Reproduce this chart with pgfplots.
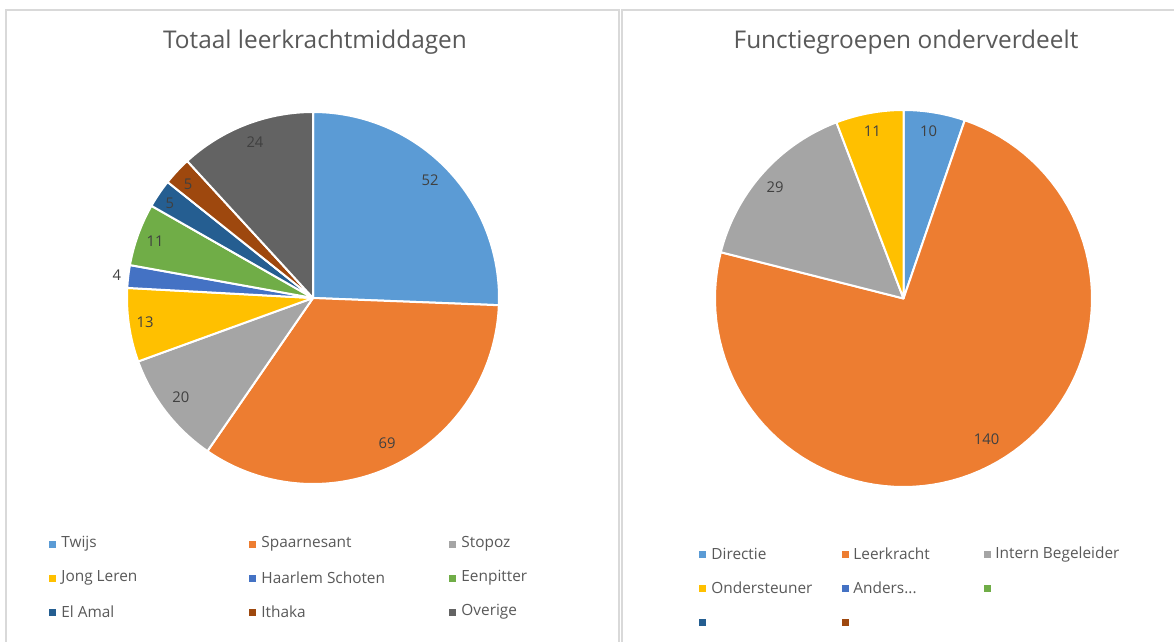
\documentclass[border=0pt]{standalone}
\usepackage{fontspec}
\setmainfont{Open Sans}
\usepackage{pgfplots}
\pgfplotsset{compat=1.18}
\definecolor{c1}{HTML}{5B9BD5}
\definecolor{c2}{HTML}{ED7D31}
\definecolor{c3}{HTML}{A5A5A5}
\definecolor{c4}{HTML}{FFC000}
\definecolor{c5}{HTML}{4472C4}
\definecolor{c6}{HTML}{70AD47}
\definecolor{c7}{HTML}{255E91}
\definecolor{c8}{HTML}{9E480E}
\definecolor{c9}{HTML}{636363}
\definecolor{txt}{HTML}{595959}
\definecolor{lbl}{HTML}{404040}
\definecolor{frame}{HTML}{D9D9D9}
% slice: colour, cumulative value before, value, total
\newcommand\slice[4]{%
  \addplot[fill=#1, draw=white, line width=1pt, line join=round,
    domain={90-(#2+#3)*360/#4}:{90-#2*360/#4}, samples=90]
    ({cos(x)},{sin(x)}) -- (axis cs:0,0) -- cycle;
}
\begin{document}
\begin{tikzpicture}
\path[use as bounding box, fill=white] (0,0) rectangle (587pt,-321pt);
% panel frames
\draw[frame, line width=0.7pt] (3pt,-330pt) -- (3pt,-5pt) -- (309.5pt,-5pt) -- (309.5pt,-330pt);
\draw[frame, line width=0.7pt] (311pt,-330pt) -- (311pt,-5pt) -- (600pt,-5pt);
% titles
\node[txt, font=\fontsize{12.2}{14}\selectfont] at (157.5pt,-21pt) {Totaal leerkrachtmiddagen};
\node[txt, font=\fontsize{12.2}{14}\selectfont] at (453pt,-21pt) {Functiegroepen onderverdeelt};

% left pie: total 203
\begin{axis}[at={(156.5pt,-149pt)}, anchor=center, x=93pt, y=93pt,
  xmin=-1.2, xmax=1.2, ymin=-1.2, ymax=1.2, hide axis, clip=false]
\slice{c1}{0}{52}{203}
\slice{c2}{52}{69}{203}
\slice{c3}{121}{20}{203}
\slice{c4}{141}{13}{203}
\slice{c5}{154}{4}{203}
\slice{c6}{158}{11}{203}
\slice{c7}{169}{5}{203}
\slice{c8}{174}{5}{203}
\slice{c9}{179}{24}{203}
\begin{scope}[every node/.style={lbl, font=\fontsize{7.4}{9}\selectfont}]
\node at (axis cs:0.629,0.634) {52};
\node at (axis cs:0.398,-0.780) {69};
\node at (axis cs:-0.710,-0.532) {20};
\node at (axis cs:-0.903,-0.129) {13};
\node at (axis cs:-1.054,0.124) {4};
\node at (axis cs:-0.849,0.306) {11};
\node at (axis cs:-0.769,0.511) {5};
\node at (axis cs:-0.672,0.613) {5};
\node at (axis cs:-0.312,0.839) {24};
\end{scope}
\end{axis}

% right pie: total 190
\begin{axis}[at={(451.75pt,-149.25pt)}, anchor=center, x=94.25pt, y=94.25pt,
  xmin=-1.2, xmax=1.2, ymin=-1.2, ymax=1.2, hide axis, clip=false]
\slice{c1}{0}{10}{190}
\slice{c2}{10}{140}{190}
\slice{c3}{150}{29}{190}
\slice{c4}{179}{11}{190}
\begin{scope}[every node/.style={lbl, font=\fontsize{7.4}{9}\selectfont}]
\node at (axis cs:0.133,0.888) {10};
\node at (axis cs:0.441,-0.745) {140};
\node at (axis cs:-0.681,0.590) {29};
\node at (axis cs:-0.165,0.888) {11};
\end{scope}
\end{axis}

% legends
\begin{scope}[every node/.style={txt, anchor=west, inner sep=0pt, font=\fontsize{7.7}{9}\selectfont}]
\def\sq#1#2#3{\fill[#3] (#1-1.75pt,#2-1.75pt) rectangle (#1+1.75pt,#2+1.75pt);}
% left
\sq{26pt}{-272pt}{c1} \node at (30.5pt,-272pt) {Twijs};
\sq{126pt}{-272pt}{c2} \node at (130.5pt,-272pt) {Spaarnesant};
\sq{226pt}{-272pt}{c3} \node at (230.5pt,-272pt) {Stopoz};
\sq{26pt}{-289pt}{c4} \node at (30.5pt,-289pt) {Jong Leren};
\sq{126pt}{-289pt}{c5} \node at (130.5pt,-289pt) {Haarlem Schoten};
\sq{226pt}{-289pt}{c6} \node at (230.5pt,-289pt) {Eenpitter};
\sq{26pt}{-306pt}{c7} \node at (30.5pt,-306pt) {El Amal};
\sq{126pt}{-306pt}{c8} \node at (130.5pt,-306pt) {Ithaka};
\sq{226pt}{-306pt}{c9} \node at (230.5pt,-306pt) {Overige};
% right
\sq{351pt}{-277pt}{c1} \node at (355.5pt,-277pt) {Directie};
\sq{422.5pt}{-277pt}{c2} \node at (426.5pt,-277pt) {Leerkracht};
\sq{493.5pt}{-277pt}{c3} \node at (497.5pt,-277pt) {Intern Begeleider};
\sq{351pt}{-294pt}{c4} \node at (355.5pt,-294pt) {Ondersteuner};
\sq{422.5pt}{-294pt}{c5} \node at (426.5pt,-294pt) {Anders...};
\sq{493.5pt}{-294pt}{c6}
\sq{351pt}{-311pt}{c7}
\sq{422.5pt}{-311pt}{c8}
\end{scope}
\end{tikzpicture}
\end{document}
